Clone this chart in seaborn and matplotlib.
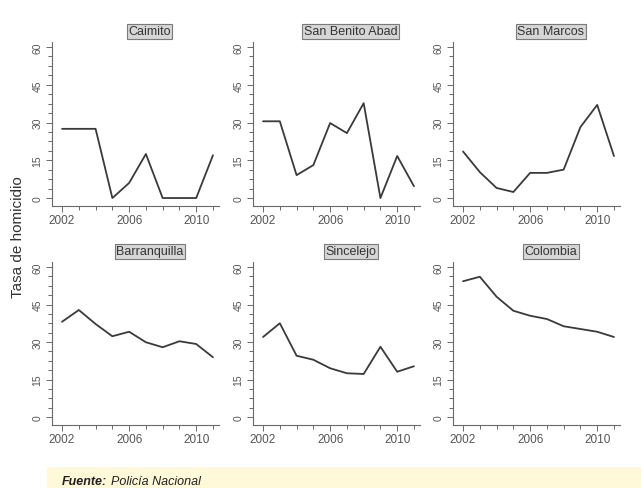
import matplotlib
matplotlib.use("Agg")
import matplotlib.pyplot as plt
from matplotlib.ticker import AutoMinorLocator, MultipleLocator, FixedLocator
from matplotlib.patches import Rectangle
import seaborn as sns
import pandas as pd

# Tasas de homicidio por 100.000 habitantes, 2002-2011
anios = [2002, 2003, 2004, 2005, 2006, 2007, 2008, 2009, 2010, 2011]
caimito = [27.5, 27.5, 27.5, 0.0, 6.0, 17.5, 0.0, 0.0, 0.0, 17.0]
san_benito_abad = [30.5, 30.5, 9.1, 13.1, 29.8, 25.8, 37.7, 0.0, 16.7, 4.7]
san_marcos = [18.5, 10.3, 4.0, 2.4, 10.0, 10.0, 11.3, 28.2, 37.0, 16.7]
barranquilla = [38.1, 42.8, 37.2, 32.3, 34.1, 29.9, 27.9, 30.3, 29.2, 23.9]
sincelejo = [32.0, 37.5, 24.5, 22.9, 19.5, 17.5, 17.2, 28.1, 18.1, 20.3]
colombia = [54.3, 56.1, 48.1, 42.5, 40.5, 39.2, 36.3, 35.2, 34.1, 32.0]

paneles = ["Caimito", "San Benito Abad", "San Marcos",
           "Barranquilla", "Sincelejo", "Colombia"]
series = [caimito, san_benito_abad, san_marcos, barranquilla, sincelejo, colombia]

y_ticks = [0, 15, 30, 45, 60]
x_ticks = [2002, 2006, 2010]

df = pd.DataFrame({
    "municipio": [p for p, s in zip(paneles, series) for _ in s],
    "anio": [a for s in series for a in anios],
    "tasa": [v for s in series for v in s],
})

sns.set_style("ticks")
plt.rcParams["font.family"] = ["Liberation Sans", "DejaVu Sans"]

W, H = 641, 489
fig = plt.figure(figsize=(W / 100, H / 100), dpi=100)
fig.patch.set_facecolor("white")

lefts = [52, 253, 453]
width = 167
rows = [(206.6, 163.6), (425.5, 162.5)]  # (bottom edge from top, height) in px

axis_col = "#6a6a6a"
text_col = "#555555"
line_col = "#3a3a3a"

for i, nombre in enumerate(paneles):
    r, c = divmod(i, 3)
    bottom_px, h_px = rows[r]
    ax = fig.add_axes([lefts[c] / W, (H - bottom_px) / H, width / W, h_px / H])
    sub = df[df["municipio"] == nombre]
    sns.lineplot(data=sub, x="anio", y="tasa", ax=ax, color=line_col,
                 linewidth=1.3, errorbar=None)
    ax.set_xlim(2001.4, 2011.36)
    ax.set_ylim(-3.0, 62.0)
    ax.set_xlabel("")
    ax.set_ylabel("")
    for s in ("top", "right"):
        ax.spines[s].set_visible(False)
    for s in ("left", "bottom"):
        ax.spines[s].set_color(axis_col)
        ax.spines[s].set_linewidth(0.8)
    ax.yaxis.set_major_locator(FixedLocator(y_ticks))
    ax.yaxis.set_minor_locator(AutoMinorLocator(4))
    ax.xaxis.set_major_locator(FixedLocator(x_ticks))
    ax.xaxis.set_minor_locator(MultipleLocator(1))
    ax.tick_params(axis="both", which="both", direction="out", color=axis_col,
                   width=0.7, labelcolor=text_col, bottom=True, left=True)
    ax.tick_params(axis="both", which="major", length=4, pad=2, labelsize=8.5)
    ax.tick_params(axis="both", which="minor", length=3)
    ax.tick_params(axis="y", which="major", labelsize=7.5, pad=3)
    for lab in ax.get_yticklabels():
        lab.set_rotation(90)
        lab.set_va("center")
    ax.text(0.585, 1.067, nombre, transform=ax.transAxes, ha="center", va="center",
            fontsize=9, color="#333333",
            bbox=dict(boxstyle="square,pad=0.12", fc="#d6d6d6", ec="#7a7a7a", lw=0.8))

fig.text(18 / W, 1 - 237 / H, "Tasa de homicidio", rotation=90, ha="center",
         va="center", fontsize=11, color="#333333")

# Nota de fuente
fig.patches.append(Rectangle((47 / W, 0), 1 - 47 / W, 21 / H,
                             transform=fig.transFigure, fc="#fff9d9", ec="none"))
fig.text(62 / W, 1 / H, "Fuente:", fontsize=9, style="italic", weight="bold",
         color="#222222", ha="left", va="bottom")
fig.text(111 / W, 1 / H, "Policía Nacional", fontsize=9, style="italic",
         color="#222222", ha="left", va="bottom")

fig.savefig("out.png", dpi=100, facecolor="white")
